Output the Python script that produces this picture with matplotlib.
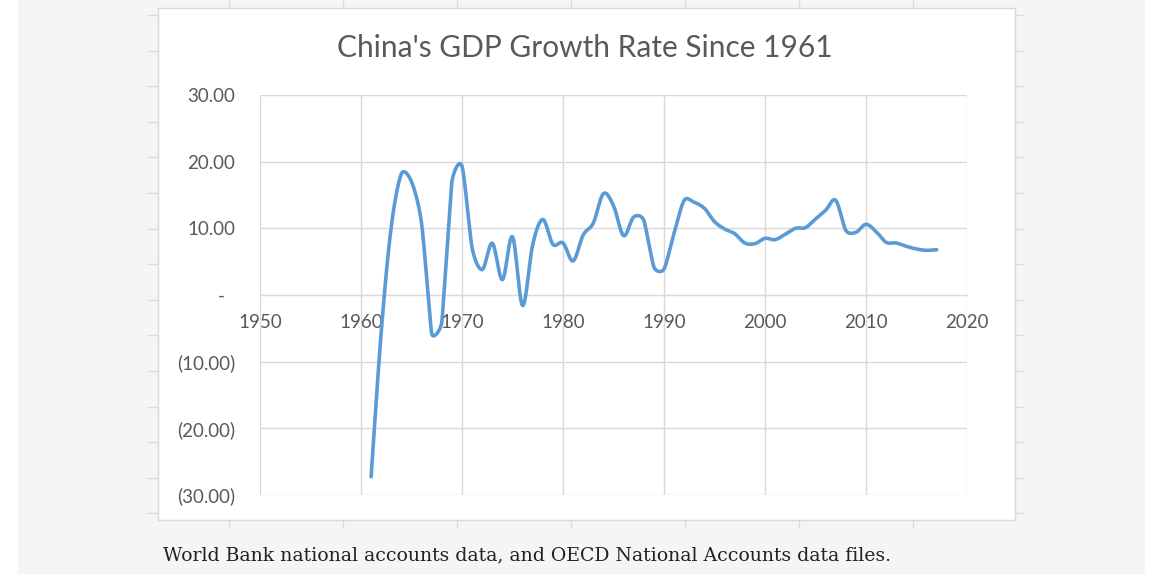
import numpy as np
import matplotlib
matplotlib.use("Agg")
import matplotlib.pyplot as plt
import matplotlib.transforms as mtransforms
from matplotlib.patches import Rectangle
from matplotlib.lines import Line2D

# ---- data ----
years = list(range(1961, 2018))
growth = [-27.27, -5.58, 10.30, 18.18, 17.00, 10.70, -5.77, -4.10, 16.94, 19.30,
          7.06, 3.81, 7.76, 2.31, 8.72, -1.57, 7.57, 11.33, 7.60, 7.81,
          5.11, 9.00, 10.80, 15.20, 13.40, 8.90, 11.70, 11.20, 4.20, 3.90,
          9.30, 14.20, 13.90, 13.00, 11.00, 9.90, 9.20, 7.80, 7.70, 8.50,
          8.30, 9.10, 10.00, 10.10, 11.40, 12.70, 14.20, 9.70, 9.40, 10.60,
          9.50, 7.90, 7.80, 7.30, 6.90, 6.70, 6.80]
xticks = [1950, 1960, 1970, 1980, 1990, 2000, 2010, 2020]
yticks = [30, 20, 10, 0, -10, -20, -30]
ytick_labels = ["30.00", "20.00", "10.00", "-", "(10.00)", "(20.00)", "(30.00)"]
title = "China's GDP Growth Rate Since 1961"
caption = "World Bank national accounts data, and OECD National Accounts data files."

W, H = 1171, 574
fig = plt.figure(figsize=(W / 100, H / 100), dpi=100)
fig.patch.set_facecolor("white")

def fx(px):
    return px / W

def fy(py):
    return 1 - py / H

# page background
fig.add_artist(Rectangle((fx(18), 0), fx(1145) - fx(18), 1, transform=fig.transFigure,
                         facecolor="#f5f5f5", edgecolor="none", zorder=0))
# faint spreadsheet ticks
for px in [229, 343, 457, 571, 685, 799, 913]:
    fig.add_artist(Line2D([fx(px), fx(px)], [fy(0), fy(8)], transform=fig.transFigure,
                          color="#dcdcdc", lw=1, zorder=1))
    fig.add_artist(Line2D([fx(px), fx(px)], [fy(520), fy(527)], transform=fig.transFigure,
                          color="#dcdcdc", lw=1, zorder=1))
for py in np.arange(15, 520, 35.6):
    fig.add_artist(Line2D([fx(148), fx(158)], [fy(py), fy(py)], transform=fig.transFigure,
                          color="#dcdcdc", lw=1, zorder=1))
    fig.add_artist(Line2D([fx(1015), fx(1023)], [fy(py), fy(py)], transform=fig.transFigure,
                          color="#dcdcdc", lw=1, zorder=1))
# chart box
fig.add_artist(Rectangle((fx(158), fy(520)), fx(1015) - fx(158), fy(8) - fy(520),
                         transform=fig.transFigure, facecolor="white",
                         edgecolor="#d9d9d9", lw=1, zorder=1))

ax = fig.add_axes([fx(260), fy(495), fx(967) - fx(260), fy(95) - fy(495)])
ax.set_zorder(2)
ax.patch.set_alpha(0)
ax.set_xlim(1950, 2020)
ax.set_ylim(-30, 30)

# Excel-like smoothed line: cubic Bezier through the data points,
# tangents computed in screen space, limited to half of the adjacent segments
P = ax.transData.transform(np.column_stack([years, growth]))
n = len(P)
cin = P.copy()
cout = P.copy()
for i in range(n):
    p0 = P[max(i - 1, 0)]
    p1 = P[i]
    p2 = P[min(i + 1, n - 1)]
    T = p2 - p0
    d02 = np.linalg.norm(T)
    if d02 == 0:
        continue
    d01 = np.linalg.norm(p1 - p0)
    d12 = np.linalg.norm(p2 - p1)
    cands = [d02 / 6.0] + [d / 2.0 for d in (d01, d12) if d > 0]
    L = min(cands)
    u = T / d02
    cout[i] = p1 + u * L
    cin[i] = p1 - u * L
t = np.linspace(0, 1, 40)[:, None]
seg = []
for i in range(n - 1):
    a, b, c, d = P[i], cout[i], cin[i + 1], P[i + 1]
    pts = ((1 - t) ** 3) * a + 3 * ((1 - t) ** 2) * t * b + 3 * (1 - t) * t ** 2 * c + t ** 3 * d
    seg.append(pts if i == 0 else pts[1:])
curve = ax.transData.inverted().transform(np.vstack(seg))
ax.plot(curve[:, 0], curve[:, 1], color="#5b9bd5", lw=2.6, solid_capstyle="round", zorder=3)

ax.set_xticks(xticks)
ax.set_yticks(yticks)
ax.set_yticklabels(ytick_labels)
ax.grid(True, color="#d9d9d9", lw=1)
for s in ax.spines.values():
    s.set_visible(False)
ax.spines["bottom"].set_visible(True)
ax.spines["bottom"].set_position(("data", 0))
ax.spines["bottom"].set_color("#d9d9d9")
ax.tick_params(axis="both", length=0, labelcolor="#595959", labelsize=13.5)
ax.tick_params(axis="x", pad=14)
ax.tick_params(axis="y", pad=18)
for lab in ax.get_xticklabels() + ax.get_yticklabels():
    lab.set_family("Lato")
# accounting-format dash sits a little left of the numbers
for lab in ax.get_yticklabels():
    if lab.get_text() == "-":
        lab.set_transform(lab.get_transform() +
                          mtransforms.ScaledTranslation(-10 / 100, 0, fig.dpi_scale_trans))

fig.text(fx(585), fy(48), title, ha="center", va="center", fontsize=21.5,
         color="#595959", family="Lato", zorder=5)
fig.text(fx(163), fy(555), caption, ha="left", va="center", fontsize=13.6,
         color="#222222", family="DejaVu Serif", zorder=5)

fig.savefig("out.png", dpi=100)
